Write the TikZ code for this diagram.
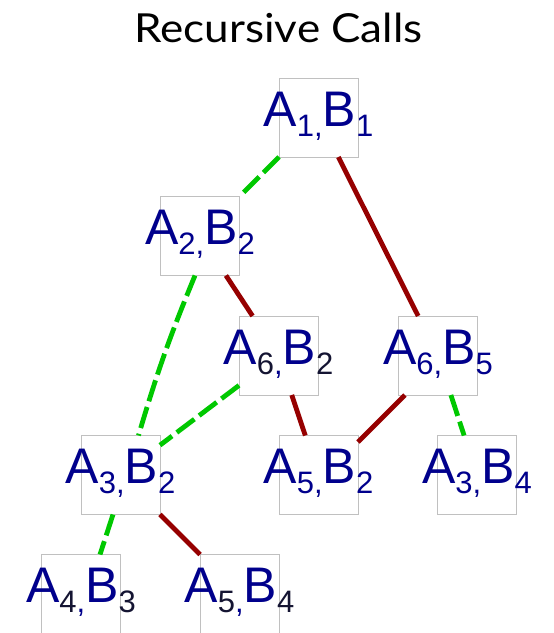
\documentclass[tikz,border=0pt]{standalone}
\usepackage{fontspec}
\usepackage{xcolor}
\setmainfont{Liberation Sans}
\newfontfamily\titlefont{Lato}
\definecolor{navy}{RGB}{0,0,140}
\definecolor{inkdark}{RGB}{20,20,50}
\definecolor{callred}{RGB}{150,0,0}
\definecolor{callgreen}{RGB}{0,200,0}
\definecolor{boxgray}{RGB}{192,192,192}
\newcommand{\idx}[2][navy]{\raisebox{-10pt}{\fontsize{31}{31}\selectfont\color{#1}#2}}
\tikzset{
  cell/.style={draw=boxgray, line width=0.8pt, fill=white, minimum size=79pt, inner sep=0pt, outer sep=0pt},
  pair/.style={text=navy, font=\fontsize{50}{50}\selectfont, inner sep=0pt, anchor=base},
  solved/.style={draw=callred, line width=4.8pt},
  pruned/.style={draw=callgreen, line width=4.8pt, dash pattern=on 22pt off 6pt}
}

\begin{document}
\begin{tikzpicture}[x=1pt,y=-1pt]
  \useasboundingbox (0,0) rectangle (554,633);
  \node[font=\titlefont\fontsize{40}{40}\selectfont, anchor=base] (title) at (278.5,42) {\scalebox{1.1}[1]{Recursive Calls}};
  \foreach \n/\x/\y/\a/\b/\c in {a1b1/318.5/117.5/1/1/navy, a2b2/200/236/2/2/navy,
      a6b2/278.5/355.5/6/2/inkdark, a6b5/438/355.5/6/5/navy, a3b2/120.5/475/3/2/navy,
      a5b2/318.5/475/5/2/navy, a3b4/477/475/3/4/navy, a4b3/81/594/4/3/inkdark, a5b4/239.5/594/5/4/inkdark}{
    \node[cell] (\n) at (\x,\y) {};
    \node[pair] (\n-t) at ([yshift=-8.5pt]\n.center) {A\idx[\c]{\a}\idx{,}B\idx[\c]{\b}};
  }
  % calls
  \draw[pruned] (a1b1) -- (a2b2);
  \draw[solved] (a1b1) -- (a6b5);
  \draw[pruned] ([xshift=-5pt]a2b2.south) to[bend right=3] ([xshift=18pt]a3b2.north);
  \draw[solved] (a2b2) -- (a6b2);
  \draw[pruned] (a6b2) -- (a3b2);
  \draw[solved] (a6b2) -- (a5b2);
  \draw[solved] ([xshift=-33pt]a6b5.south) -- ([yshift=33pt]a5b2.east);
  \draw[pruned] (a6b5) -- (a3b4);
  \draw[pruned] ([xshift=-7.5pt]a3b2.south) -- ([xshift=19pt]a4b3.north);
  \draw[solved] (a3b2) -- (a5b4);
\end{tikzpicture}
\end{document}
